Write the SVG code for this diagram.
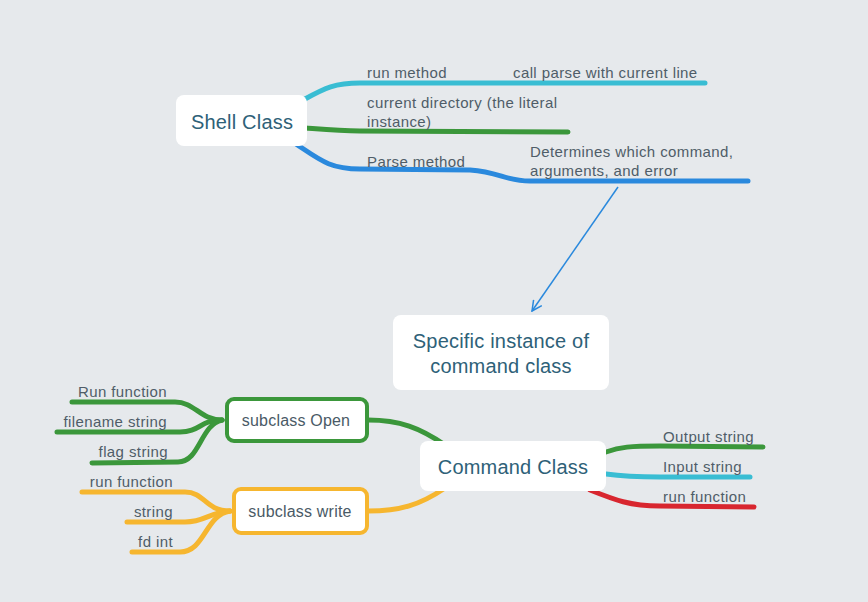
<svg xmlns="http://www.w3.org/2000/svg" width="868" height="602" viewBox="0 0 868 602">
<style>
.br{fill:none;stroke-width:5;stroke-linecap:round;stroke-linejoin:round}
.lbl{font-family:"Liberation Sans",Arial,sans-serif;font-size:15px;letter-spacing:0.4px;fill:#4f5d68}
.nt{font-family:"Liberation Sans",Arial,sans-serif;font-size:20px;letter-spacing:0.2px;fill:#2e6178;text-anchor:middle}
.st{font-family:"Liberation Sans",Arial,sans-serif;font-size:16px;letter-spacing:0.2px;fill:#4a5a66;text-anchor:middle}
.box{fill:#ffffff}
.g{stroke:#3b973b}.c{stroke:#39bdd3}.b{stroke:#2a89dd}.r{stroke:#d8262f}.o{stroke:#f6b62f}
</style>
<defs>
<marker id="ah" viewBox="0 0 12 12" refX="11" refY="6" markerWidth="12" markerHeight="12" markerUnits="userSpaceOnUse" orient="auto">
<path d="M1,1 L11,6 L1,11" fill="none" stroke="#2a89dd" stroke-width="1.5"/>
</marker>
</defs>
<rect width="868" height="602" fill="#e6e9ec"/>
<g id="connectors">
<path class="br c" d="M305,99 C325,88 335,83 360,83 L705,83"/>
<path class="br g" d="M305,128 C330,130 340,131 360,131 L568,132"/>
<path class="br b" d="M296,144 C320,160 330,169 360,169 L470,170 C500,172 505,181 530,181 L748,181"/>
<path class="br g" d="M606,452 C620,447 630,446 660,446 L763,447"/>
<path class="br c" d="M606,474 C620,476 640,477 660,477 L750,477"/>
<path class="br r" d="M590,490 C615,500 630,506 660,506 L754,507"/>
<path class="br g" d="M445,445 C420,428 400,420 368,420"/>
<path class="br o" d="M445,488 C420,505 400,511 368,511"/>
<path class="br g" d="M222,420 C200,420 195,402 175,402 L72,402"/>
<path class="br g" d="M222,420 C200,420 200,432 180,432 L57,432"/>
<path class="br g" d="M222,420 C200,425 200,462 178,462 L92,463"/>
<path class="br o" d="M230,511 C205,511 205,492 185,492 L82,492"/>
<path class="br o" d="M230,511 C210,512 205,522 185,522 L127,522"/>
<path class="br o" d="M230,511 C205,515 205,552 180,552 L132,552"/>
<line x1="618" y1="187" x2="532" y2="311" stroke="#2a89dd" stroke-width="1.5" marker-end="url(#ah)"/>
</g>
<g id="shell">
<rect class="box" x="176" y="95" width="131" height="51" rx="8"/>
<text class="nt" x="242" y="129">Shell Class</text>
</g>
<g id="run-method"><text class="lbl" x="367" y="78">run method</text></g>
<g id="call-parse"><text class="lbl" x="513" y="78">call parse with current line</text></g>
<g id="current-dir"><text class="lbl" x="367" y="108">current directory (the literal</text><text class="lbl" x="367" y="127">instance)</text></g>
<g id="parse-method"><text class="lbl" x="367" y="167">Parse method</text></g>
<g id="determines"><text class="lbl" x="530" y="157">Determines which command,</text><text class="lbl" x="530" y="176">arguments, and error</text></g>
<g id="specific">
<rect class="box" x="393" y="315" width="216" height="75" rx="8"/>
<text class="nt" x="501" y="348">Specific instance of</text>
<text class="nt" x="501" y="373">command class</text>
</g>
<g id="command">
<rect class="box" x="420" y="441" width="186" height="50" rx="8"/>
<text class="nt" x="513" y="474">Command Class</text>
</g>
<g id="output-string"><text class="lbl" x="663" y="442">Output string</text></g>
<g id="input-string"><text class="lbl" x="663" y="472">Input string</text></g>
<g id="run-function-cmd"><text class="lbl" x="663" y="502">run function</text></g>
<g id="subclass-open">
<rect x="227" y="399" width="140" height="42" rx="7" fill="#fff" stroke="#3b973b" stroke-width="4"/>
<text class="st" x="296" y="426">subclass Open</text>
</g>
<g id="subclass-write">
<rect x="234" y="489" width="133" height="44" rx="7" fill="#fff" stroke="#f6b62f" stroke-width="4"/>
<text class="st" x="300" y="517">subclass write</text>
</g>
<g id="run-function-open"><text class="lbl" x="167" y="397" text-anchor="end">Run function</text></g>
<g id="filename-string"><text class="lbl" x="167" y="427" text-anchor="end">filename string</text></g>
<g id="flag-string"><text class="lbl" x="168" y="457" text-anchor="end">flag string</text></g>
<g id="run-function-write"><text class="lbl" x="173" y="487" text-anchor="end">run function</text></g>
<g id="string"><text class="lbl" x="173" y="517" text-anchor="end">string</text></g>
<g id="fd-int"><text class="lbl" x="173" y="547" text-anchor="end">fd int</text></g>
</svg>
